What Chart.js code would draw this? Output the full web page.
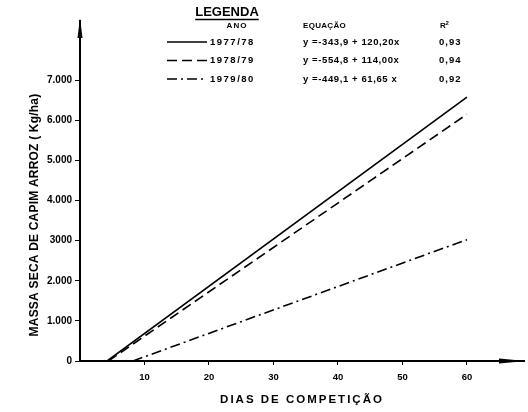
<!DOCTYPE html>
<html>
<head>
<meta charset="utf-8">
<script src="https://cdn.jsdelivr.net/npm/chart.js@4.4.0/dist/chart.umd.min.js"></script>
<style>
    body { margin: 0; background: #fff; }
</style>
</head>
<body>
<canvas id="myChart" width="528" height="412"></canvas>
<script>
// values
const years = ['1977/78', '1978/79', '1979/80'];
const equations = ['y =-343,9 + 120,20x', 'y =-554,8 + 114,00x', 'y =-449,1 + 61,65 x'];
const r2 = ['0,93', '0,94', '0,92'];
const startDays = [4.2, 4.4, 8.2];   // where each line leaves the x axis
const endDays = [60, 60, 60];
const endMass = [6575, 6150, 3025];
const yTickValues = [0, 1000, 2000, 3000, 4000, 5000, 6000, 7000];
const yTickLabels = ['0', '1.000', '2.000', '3000', '4.000', '5.000', '6.000', '7.000'];
const xTickValues = [10, 20, 30, 40, 50, 60];
const xTickLabels = ['10', '20', '30', '40', '50', '60'];

const dashes = [[], [10, 5], [10, 4, 2, 4]];
const FONT = '"Liberation Sans", Arial, sans-serif';

const spaced = (ctx, px) => { if ('letterSpacing' in ctx) ctx.letterSpacing = px + 'px'; };

// axes with arrow heads, axis titles and the legend block
const decorations = {
    id: 'decorations',
    afterDraw(chart) {
        const ctx = chart.ctx;
        const a = chart.chartArea;
        ctx.save();
        ctx.fillStyle = '#000';
        ctx.strokeStyle = '#000';

        // y arrow
        ctx.lineWidth = 2;
        ctx.beginPath();
        ctx.moveTo(a.left, a.bottom);
        ctx.lineTo(a.left, a.top);
        ctx.stroke();
        ctx.beginPath();
        ctx.moveTo(a.left, a.top - 2);
        ctx.lineTo(a.left - 2.5, a.top + 18);
        ctx.lineTo(a.left + 2.5, a.top + 18);
        ctx.closePath();
        ctx.fill();

        // x arrow
        ctx.beginPath();
        ctx.moveTo(a.left, a.bottom);
        ctx.lineTo(a.right, a.bottom);
        ctx.stroke();
        ctx.beginPath();
        ctx.moveTo(a.right + 1, a.bottom);
        ctx.lineTo(a.right - 26, a.bottom - 2.5);
        ctx.lineTo(a.right - 26, a.bottom + 2.5);
        ctx.closePath();
        ctx.fill();

        // axis titles
        ctx.font = 'bold 12px ' + FONT;
        ctx.textAlign = 'center';
        ctx.textBaseline = 'middle';
        ctx.save();
        ctx.translate(35, 215);
        ctx.rotate(-Math.PI / 2);
        spaced(ctx, 0.2);
        ctx.fillText('MASSA SECA DE CAPIM ARROZ ( Kg/ha)', 0, 0);
        ctx.restore();
        ctx.font = 'bold 11.5px ' + FONT;
        spaced(ctx, 2);
        ctx.fillText('DIAS DE COMPETIÇÃO', 302, 400);
        spaced(ctx, 0);

        // legend
        ctx.font = 'bold 13px ' + FONT;
        ctx.fillText('LEGENDA', 227, 12);
        const w = ctx.measureText('LEGENDA').width;
        ctx.lineWidth = 1.5;
        ctx.beginPath();
        ctx.moveTo(227 - w / 2, 19.5);
        ctx.lineTo(227 + w / 2, 19.5);
        ctx.stroke();

        ctx.font = 'bold 8px ' + FONT;
        spaced(ctx, 1);
        ctx.fillText('ANO', 237, 26);
        ctx.textAlign = 'left';
        spaced(ctx, 0.3);
        ctx.fillText('EQUAÇÃO', 303, 26);
        spaced(ctx, 0);
        ctx.fillText('R', 440, 26);
        ctx.font = 'bold 6px ' + FONT;
        ctx.fillText('2', 445.5, 23);

        ctx.font = 'bold 9.5px ' + FONT;
        years.forEach((yr, i) => {
            const y = 42 + i * 18.5;
            ctx.lineWidth = 1.6;
            ctx.setLineDash(dashes[i]);
            ctx.beginPath();
            ctx.moveTo(167, y);
            ctx.lineTo(207, y);
            ctx.stroke();
            ctx.setLineDash([]);
            spaced(ctx, 1.5);
            ctx.fillText(yr, 210, y);
            spaced(ctx, 0.6);
            ctx.fillText(equations[i], 303, y);
            spaced(ctx, 1);
            ctx.fillText(r2[i], 439, y);
            spaced(ctx, 0);
        });
        ctx.restore();
    }
};

const datasets = years.map((yr, i) => ({
    label: yr,
    data: [{x: startDays[i], y: 0}, {x: endDays[i], y: endMass[i]}],
    borderColor: '#000',
    borderWidth: 1.6,
    borderDash: dashes[i],
    pointRadius: 0,
    fill: false
}));

new Chart(document.getElementById('myChart').getContext('2d'), {
    type: 'line',
    data: {datasets: datasets},
    plugins: [decorations],
    options: {
        responsive: false,
        devicePixelRatio: 1,
        animation: false,
        layout: {padding: {top: 20, right: 3, left: 0, bottom: 0}},
        plugins: {legend: {display: false}, tooltip: {enabled: false}},
        scales: {
            x: {
                type: 'linear',
                min: 0,
                max: 69,
                afterBuildTicks: s => { s.ticks = xTickValues.map(v => ({value: v})); },
                afterFit: s => { s.height = 51; },
                border: {display: false},
                grid: {drawOnChartArea: false, tickLength: 4, color: '#000', lineWidth: 1},
                ticks: {
                    autoSkip: false,
                    color: '#000',
                    padding: 7,
                    maxRotation: 0,
                    font: {family: FONT, size: 9.5, weight: 'bold'},
                    callback: (v, i) => xTickLabels[i]
                }
            },
            y: {
                type: 'linear',
                min: 0,
                max: 8500,
                afterBuildTicks: s => { s.ticks = yTickValues.map(v => ({value: v})); },
                afterFit: s => { s.width = 80; },
                border: {display: false},
                grid: {drawOnChartArea: false, tickLength: 5, color: '#000', lineWidth: 1},
                ticks: {
                    autoSkip: false,
                    color: '#000',
                    padding: 3,
                    font: {family: FONT, size: 10, weight: 'bold'},
                    callback: (v, i) => yTickLabels[i]
                }
            }
        }
    }
});
</script>
</body>
</html>
